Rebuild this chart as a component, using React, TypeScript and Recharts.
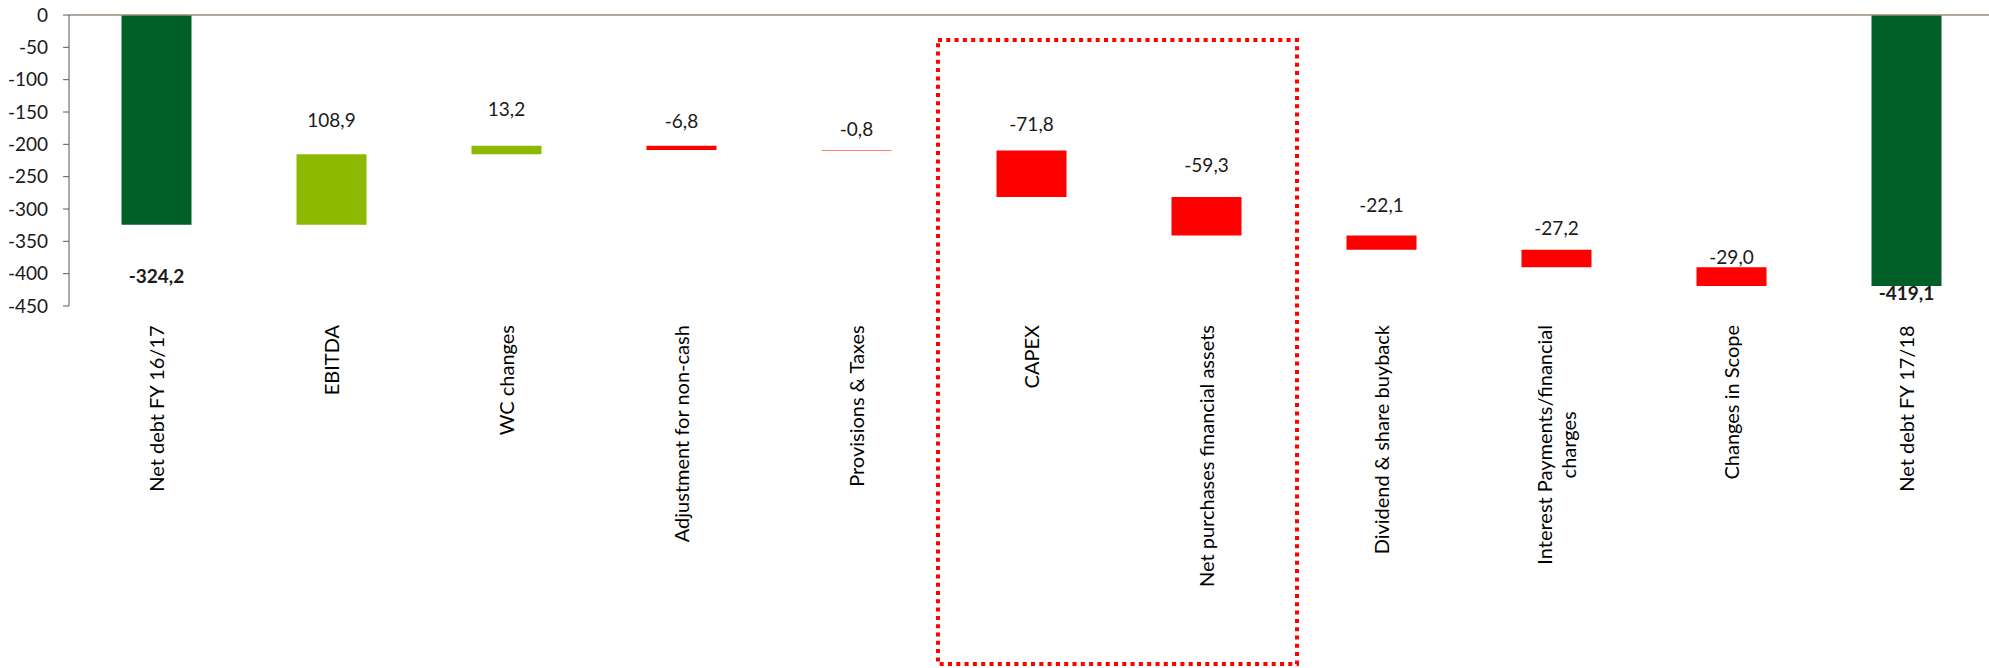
import { BarChart, Bar, XAxis, YAxis, Cell, LabelList, ReferenceLine, ReferenceArea } from 'recharts';

const categories = [
  'Net debt FY 16/17',
  'EBITDA',
  'WC changes',
  'Adjustment for non-cash',
  'Provisions & Taxes',
  'CAPEX',
  'Net purchases financial assets',
  'Dividend & share buyback',
  'Interest Payments/financial charges',
  'Changes in Scope',
  'Net debt FY 17/18',
];

const values = [-324.2, 108.9, 13.2, -6.8, -0.8, -71.8, -59.3, -22.1, -27.2, -29.0, -419.1];

const kinds = ['total', 'up', 'up', 'down', 'down', 'down', 'down', 'down', 'down', 'down', 'total'];

const yTicks = [0, -50, -100, -150, -200, -250, -300, -350, -400, -450];

const highlightFrom = 'CAPEX';
const highlightTo = 'Net purchases financial assets';

const COLORS: Record<string, string> = {
  total: '#005F27',
  up: '#8DB800',
  down: '#FF0000',
};

const FONT = 'Lato, "Noto Sans", sans-serif';

// waterfall rows: each bar is a [from, to] range
let level = 0;
const data = categories.map((name, i) => {
  const v = values[i];
  let range: number[];
  if (kinds[i] === 'total') {
    range = [0, v];
    level = v;
  } else {
    const next = Math.round((level + v) * 10) / 10;
    range = [level, next];
    level = next;
  }
  return { name, range };
});

const fmt = (v: number) => v.toFixed(1).replace('.', ',');

// how far each value label sits from its bar (labels were hand placed in the original)
const labelNudge = [52, 34, 36, 24, 21, 26, 32, 30, 21, 10, 7];

let ctx: CanvasRenderingContext2D | null = null;
const measure = (s: string, font: string) => {
  if (!ctx) ctx = document.createElement('canvas').getContext('2d');
  if (!ctx) return s.length * 9;
  ctx.font = font;
  return ctx.measureText(s).width;
};

const TICK_FONT_SIZE = 20;
const TICK_FONT = `${TICK_FONT_SIZE}px Lato`;

const wrap = (text: string, maxW: number) => {
  const words = text.split(' ');
  const lines: string[] = [];
  let cur = '';
  words.forEach((w) => {
    const t = cur ? cur + ' ' + w : w;
    if (cur && measure(t, TICK_FONT) > maxW) {
      lines.push(cur);
      cur = w;
    } else {
      cur = t;
    }
  });
  if (cur) lines.push(cur);
  return lines;
};

const CategoryTick = (props: any) => {
  const { x, y, payload } = props;
  const lines = wrap(payload.value, 295);
  const maxW = Math.max(...lines.map((l) => measure(l, TICK_FONT)));
  const lh = 24;
  return (
    <g transform={`translate(${x},${y}) rotate(-90)`}>
      {lines.map((l, i) => (
        <text
          key={i}
          x={-maxW / 2}
          y={(i - (lines.length - 1) / 2) * lh}
          dy="0.35em"
          textAnchor="middle"
          fontFamily={FONT}
          fontSize={TICK_FONT_SIZE}
          fill="#000"
        >
          {l}
        </text>
      ))}
    </g>
  );
};

const ValueLabel = (props: any) => {
  const { x, y, width, height, index } = props;
  const top = Math.min(y, y + height);
  const bottom = Math.max(y, y + height);
  const isTotal = kinds[index] === 'total';
  const cy = isTotal ? bottom + labelNudge[index] : top - labelNudge[index];
  return (
    <text
      x={x + width / 2}
      y={cy}
      dy="0.35em"
      textAnchor="middle"
      fontFamily={FONT}
      fontSize={19}
      fontWeight={isTotal ? 700 : 400}
      fill="#1a1a1a"
    >
      {fmt(values[index])}
    </text>
  );
};

const HighlightBox = (props: any) => {
  const { x, y, width, height } = props;
  return (
    <rect
      x={x - 6}
      y={y + 25}
      width={width + 9}
      height={height + 333}
      fill="none"
      stroke="#FF0000"
      strokeWidth={4}
      strokeDasharray="4 4.3"
    />
  );
};

export default function App() {
  return (
    <div style={{ position: 'absolute', left: 0, top: 0, width: 1989, height: 668, overflow: 'hidden', background: '#fff' }}>
      <BarChart
        width={1994}
        height={668}
        data={data}
        margin={{ top: 15, right: 0, bottom: 0, left: 0 }}
        barCategoryGap="30%"
      >
        <XAxis
          dataKey="name"
          interval={0}
          height={362}
          axisLine={false}
          tickLine={false}
          tickSize={6}
          tickMargin={13}
          tick={<CategoryTick />}
        />
        <YAxis
          domain={[-450, 0]}
          ticks={yTicks}
          width={69}
          tickSize={6}
          tickMargin={15}
          axisLine={{ stroke: '#595959' }}
          tickLine={{ stroke: '#595959' }}
          tick={{ fontFamily: FONT, fontSize: 19, fill: '#1a1a1a' }}
        />
        <ReferenceArea
          x1={highlightFrom}
          x2={highlightTo}
          ifOverflow="visible"
          shape={<HighlightBox />}
        />
        <Bar dataKey="range" isAnimationActive={false}>
          {data.map((d, i) => (
            <Cell key={d.name} fill={COLORS[kinds[i]]} />
          ))}
          <LabelList dataKey="range" content={<ValueLabel />} />
        </Bar>
        <ReferenceLine y={0} stroke="#9b8a7d" strokeWidth={1.5} />
      </BarChart>
    </div>
  );
}
